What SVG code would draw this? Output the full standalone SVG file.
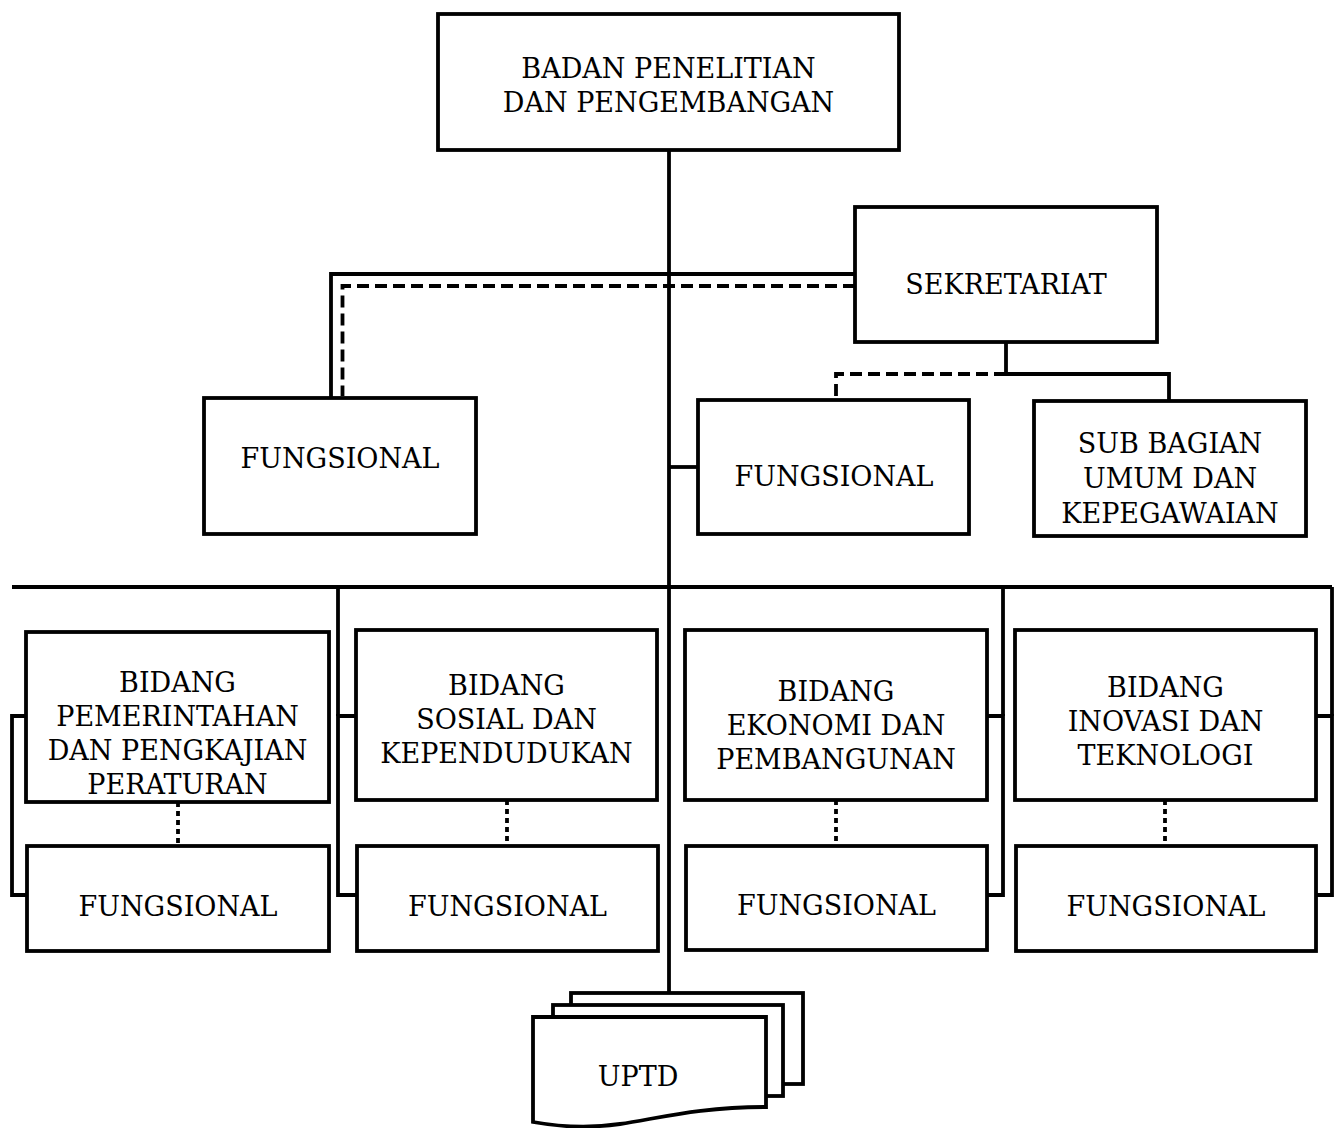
<svg xmlns="http://www.w3.org/2000/svg" width="1340" height="1128" viewBox="0 0 1340 1128">
<style>
.box{fill:#fff;stroke:#000;stroke-width:3.8}
.ln{fill:none;stroke:#000;stroke-width:3.8}
.dash{fill:none;stroke:#000;stroke-width:3.8;stroke-dasharray:12,6}
.dot{fill:none;stroke:#000;stroke-width:3.8;stroke-dasharray:5,4}
text{font-family:"DejaVu Serif","Liberation Serif",serif;font-size:27px;text-anchor:middle;fill:#000}
</style>
<rect width="1340" height="1128" fill="#fff"/>
<g id="connectors">
<path class="ln" d="M669 150 V993"/>
<path class="ln" d="M855 274 H331 V398"/>
<path class="dash" d="M855 286 H342.5 V396"/>
<path class="ln" d="M1006 342 V374 H1169 V401"/>
<path class="dash" d="M1006 374 H836 V400"/>
<path class="ln" d="M669 467 H698"/>
<path class="ln" d="M12 587 H1332"/>
<path class="ln" d="M26 716 H12 V895 H27"/>
<path class="ln" d="M356 716 H338 V895 H357"/>
<path class="ln" d="M338 587 V716"/>
<path class="ln" d="M987 716 H1003 V895 H987"/>
<path class="ln" d="M1003 587 V716"/>
<path class="ln" d="M1316 716 H1332 V895 H1316"/>
<path class="ln" d="M1332 587 V716"/>
<path class="dot" d="M178 802 V846"/>
<path class="dot" d="M507 800 V846"/>
<path class="dot" d="M836 800 V846"/>
<path class="dot" d="M1165 800 V846"/>
</g>
<g id="kepala"><rect class="box" x="438" y="14" width="461" height="136"/><text x="668.5" y="78">BADAN PENELITIAN</text><text x="668.5" y="112">DAN PENGEMBANGAN</text></g>
<g id="sekretariat"><rect class="box" x="855" y="207" width="302" height="135"/><text x="1006" y="294">SEKRETARIAT</text></g>
<g id="fungsional-kiri"><rect class="box" x="204" y="398" width="272" height="136"/><text x="340" y="468">FUNGSIONAL</text></g>
<g id="fungsional-tengah"><rect class="box" x="698" y="400" width="271" height="134"/><text x="834" y="486">FUNGSIONAL</text></g>
<g id="subbagian"><rect class="box" x="1034" y="401" width="272" height="135"/><text x="1170" y="453">SUB BAGIAN</text><text x="1170" y="488">UMUM DAN</text><text x="1170" y="523">KEPEGAWAIAN</text></g>
<g id="bidang1"><rect class="box" x="26" y="632" width="303" height="170"/><text x="177.5" y="692">BIDANG</text><text x="177.5" y="726">PEMERINTAHAN</text><text x="177.5" y="760">DAN PENGKAJIAN</text><text x="177.5" y="794">PERATURAN</text></g>
<g id="bidang2"><rect class="box" x="356" y="630" width="301" height="170"/><text x="506.5" y="695">BIDANG</text><text x="506.5" y="729">SOSIAL DAN</text><text x="506.5" y="763">KEPENDUDUKAN</text></g>
<g id="bidang3"><rect class="box" x="685" y="630" width="302" height="170"/><text x="836" y="701">BIDANG</text><text x="836" y="735">EKONOMI DAN</text><text x="836" y="769">PEMBANGUNAN</text></g>
<g id="bidang4"><rect class="box" x="1015" y="630" width="301" height="170"/><text x="1165.5" y="697">BIDANG</text><text x="1165.5" y="731">INOVASI DAN</text><text x="1165.5" y="765">TEKNOLOGI</text></g>
<g id="fungsional1"><rect class="box" x="27" y="846" width="302" height="105"/><text x="178" y="916">FUNGSIONAL</text></g>
<g id="fungsional2"><rect class="box" x="357" y="846" width="301" height="105"/><text x="507.5" y="916">FUNGSIONAL</text></g>
<g id="fungsional3"><rect class="box" x="686" y="846" width="301" height="104"/><text x="836.5" y="915">FUNGSIONAL</text></g>
<g id="fungsional4"><rect class="box" x="1016" y="846" width="300" height="105"/><text x="1166" y="916">FUNGSIONAL</text></g>
<g id="uptd">
<rect class="box" x="571" y="993" width="232" height="91"/>
<rect class="box" x="553" y="1005" width="230" height="91"/>
<path class="box" d="M533 1017 H766 V1107 C700 1107 660 1118 620 1124 C585 1129 555 1126 533 1122 Z"/>
<text x="638" y="1086">UPTD</text>
</g>
</svg>
